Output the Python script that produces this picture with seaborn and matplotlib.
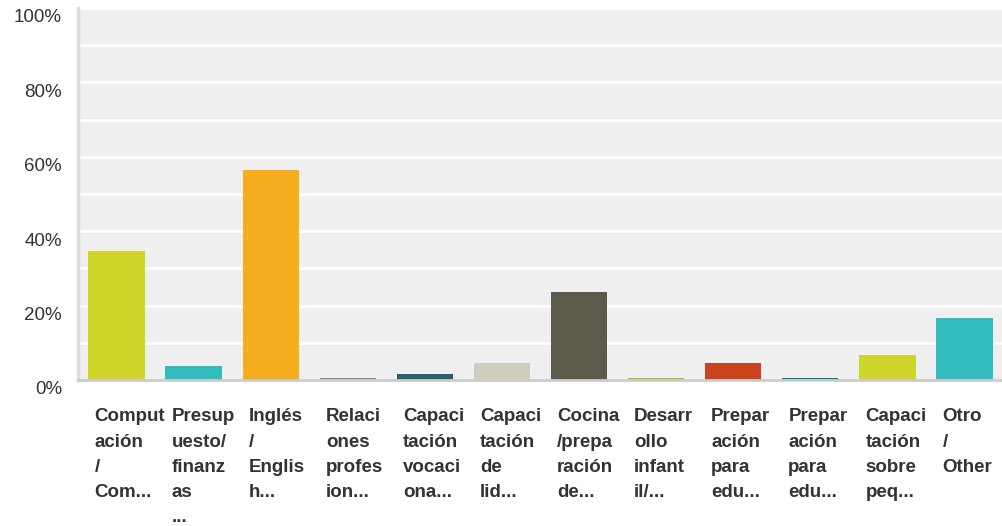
import matplotlib
matplotlib.use("Agg")
import matplotlib.pyplot as plt
import matplotlib.transforms as mtransforms
import pandas as pd
import seaborn as sns

# answer options (as they appear, truncated, under each bar)
categories = [
    "Comput\nación\n/\nCom...",
    "Presup\nuesto/\nfinanz\nas\n...",
    "Inglés\n/\nEnglis\nh...",
    "Relaci\nones\nprofes\nion...",
    "Capaci\ntación\nvocaci\nona...",
    "Capaci\ntación\nde\nlid...",
    "Cocina\n/prepa\nración\nde...",
    "Desarr\nollo\ninfant\nil/...",
    "Prepar\nación\npara\nedu...",
    "Prepar\nación\npara\nedu...",
    "Capaci\ntación\nsobre\npeq...",
    "Otro\n/\nOther",
]
# share of respondents, percent
percent = [34.7, 3.8, 56.5, 0.5, 1.6, 4.6, 23.7, 0.5, 4.6, 0.5, 6.7, 16.7]
bar_colors = ["#D0D52A", "#33BCBE", "#F6AE1F", "#8F8E7A", "#2A5E6C", "#D0CEBF",
              "#5C5A4B", "#A9BE31", "#C9441C", "#00857E", "#D0D52A", "#33BCBE"]
y_ticks = [0, 20, 40, 60, 80, 100]
y_tick_labels = ["0%", "20%", "40%", "60%", "80%", "100%"]

df = pd.DataFrame({"key": [f"c{i}" for i in range(len(categories))],
                   "pct": percent})

sns.set_style("white")
plt.rcParams["font.family"] = ["Liberation Sans", "DejaVu Sans"]

fig = plt.figure(figsize=(10.03, 5.26), dpi=100)
ax = fig.add_axes([78 / 1003, (526 - 380) / 526, (1003 - 78) / 1003, 372 / 526])
ax.set_facecolor("#EFEFEF")

sns.barplot(data=df, x="key", y="pct", hue="key", palette=bar_colors,
            width=0.73, legend=False, ax=ax, saturation=1, linewidth=0)

ax.set_ylim(0, 100)
ax.set_xlim(-0.5, len(categories) - 0.5)
ax.set_yticks(y_ticks, y_tick_labels)
ax.set_yticks(range(10, 100, 20), minor=True)
ax.grid(True, axis="y", which="both", color="white", linewidth=2)
ax.set_axisbelow(True)
ax.set_xlabel("")
ax.set_ylabel("")

for side in ["top", "right"]:
    ax.spines[side].set_visible(False)
ax.spines["left"].set_color("#DDDDDD")
ax.spines["left"].set_linewidth(2.5)
ax.spines["bottom"].set_color("#CCCCCC")
ax.spines["bottom"].set_linewidth(2)

ax.tick_params(axis="y", which="both", length=0, pad=11.5, labelsize=13.5,
               labelcolor="#333333")
ax.tick_params(axis="x", length=0, pad=20.5)

ax.set_xticks(range(len(categories)))
ax.set_xticklabels(categories, ha="left", fontweight="bold", fontsize=13.5,
                   color="#333333", linespacing=1.62)

shift_x = mtransforms.ScaledTranslation(-0.22, 0, fig.dpi_scale_trans)
for lab in ax.get_xticklabels():
    lab.set_transform(lab.get_transform() + shift_x)
shift_y = mtransforms.ScaledTranslation(0, -0.08, fig.dpi_scale_trans)
for lab in ax.get_yticklabels():
    lab.set_transform(lab.get_transform() + shift_y)

fig.savefig("out.png", dpi=100)
